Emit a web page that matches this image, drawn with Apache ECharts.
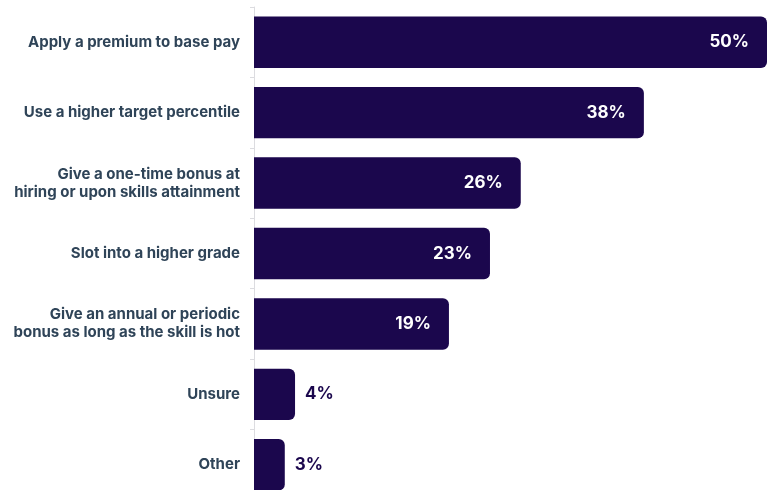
<!DOCTYPE html>
<html>
<head>
<meta charset="utf-8">
<script src="https://cdn.jsdelivr.net/npm/echarts@6/dist/echarts.min.js"></script>
<style>
  html, body { margin: 0; padding: 0; background: #ffffff; overflow: hidden; }
  #wrap { width: 768px; height: 490px; overflow: hidden; }
  #chart { width: 768px; height: 500px; }
</style>
</head>
<body>
<div id="wrap"><div id="chart"></div></div>
<script>
// Ways organizations pay for hot skills (share of respondents)
const categories = [
  'Apply a premium to base pay',
  'Use a higher target percentile',
  'Give a one-time bonus at\nhiring or upon skills attainment',
  'Slot into a higher grade',
  'Give an annual or periodic\nbonus as long as the skill is hot',
  'Unsure',
  'Other'
];
const values = [50, 38, 26, 23, 19, 4, 3];

const BAR = '#1b074d';
const insideThreshold = 10;

const chart = echarts.init(document.getElementById('chart'));

chart.setOption({
  animation: false,
  grid: { left: 254, right: 1, top: 7, bottom: 0, containLabel: false },
  xAxis: {
    type: 'value',
    min: 0,
    max: 50,
    show: false
  },
  yAxis: {
    type: 'category',
    inverse: true,
    data: categories,
    axisLine: { show: true, lineStyle: { color: '#dcdce0', width: 1 } },
    axisTick: { show: true, length: 4, lineStyle: { color: '#dcdce0' } },
    axisLabel: {
      margin: 14,
      color: '#2f4458',
      fontFamily: 'Inter',
      fontWeight: 700,
      fontSize: 15,
      lineHeight: 18,
      align: 'right'
    }
  },
  series: [{
    type: 'bar',
    barCategoryGap: '27%',
    data: values.map(v => ({
      value: v,
      label: v >= insideThreshold
        ? { position: 'insideRight', distance: 18, color: '#ffffff' }
        : { position: 'right', distance: 10, color: BAR }
    })),
    itemStyle: { color: BAR, borderRadius: [0, 6, 6, 0] },
    label: {
      show: true,
      formatter: p => p.value + '%',
      fontFamily: 'Inter',
      fontWeight: 700,
      fontSize: 17
    }
  }]
});
</script>
</body>
</html>
